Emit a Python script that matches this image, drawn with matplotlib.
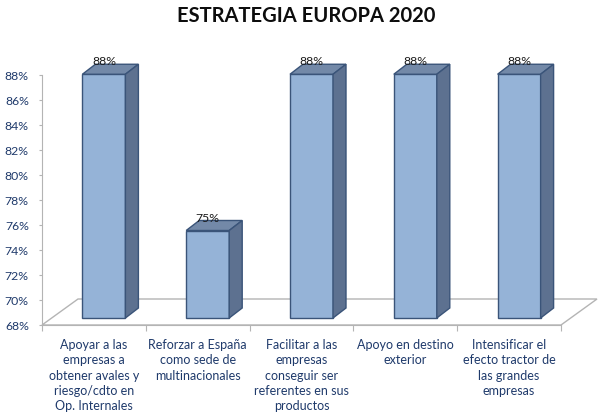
import matplotlib
matplotlib.use("Agg")
import matplotlib.pyplot as plt
from matplotlib.patches import Polygon
from matplotlib.ticker import FixedLocator, FixedFormatter, FuncFormatter
import numpy as np

plt.rcParams['font.family'] = ['Lato', 'DejaVu Sans']

# ---- data ----
title = "ESTRATEGIA EUROPA 2020"
categories = [
    "Apoyar a las\nempresas a\nobtener avales y\nriesgo/cdto en\nOp. Internales",
    "Reforzar a España\ncomo sede de\nmultinacionales",
    "Facilitar a las\nempresas\nconseguir ser\nreferentes en sus\nproductos",
    "Apoyo en destino\nexterior",
    "Intensificar el\nefecto tractor de\nlas grandes\nempresas",
]
values = [87.5, 75.0, 87.5, 87.5, 87.5]
y_ticks = [68, 70, 72, 74, 76, 78, 80, 82, 84, 86, 88]

# ---- style ----
W, H = 600, 416
front_col = '#95B3D7'
top_col = '#7389A8'
side_col = '#5D7190'
edge_col = '#3A5479'
grid_col = '#B4B4B4'
text_col = '#1F3A6B'

fig = plt.figure(figsize=(W / 100, H / 100), dpi=100)
ax_l, ax_r, ax_t, ax_b = 42, 561, 75, 325
ax = fig.add_axes([ax_l / W, (H - ax_b) / H, (ax_r - ax_l) / W, (ax_b - ax_t) / H])
n = len(categories)
ax.set_xlim(-0.5, n - 0.5)
ax.set_ylim(y_ticks[0], y_ticks[-1])

# pixel -> data unit factors
ux = n / (ax_r - ax_l)
uy = (y_ticks[-1] - y_ticks[0]) / (ax_b - ax_t)
ybase = y_ticks[0]

# floor (3D)
fdx, fdy = 36 * ux, 26 * uy
x0, x1 = -0.5, n - 0.5
floor = Polygon([(x0, ybase), (x1, ybase), (x1 + fdx, ybase + fdy), (x0 + fdx, ybase + fdy)],
                closed=True, facecolor='none', edgecolor=grid_col, lw=1.0,
                clip_on=False, zorder=1)
ax.add_patch(floor)

# bars
shift_x, shift_y = 10 * ux, 7 * uy
bw = 43 * ux
ddx, ddy = 13 * ux, 10 * uy
xs = np.arange(n)
bottom = ybase + shift_y
heights = np.array(values) - ybase
bars = ax.bar(xs + shift_x, heights, width=bw, bottom=bottom, color=front_col,
              edgecolor=edge_col, linewidth=1.0, zorder=3, clip_on=False)
for b, v in zip(bars, values):
    xl = b.get_x()
    xr = xl + b.get_width()
    top = b.get_y() + b.get_height()
    ax.add_patch(Polygon([(xl, top), (xr, top), (xr + ddx, top + ddy), (xl + ddx, top + ddy)],
                         closed=True, facecolor=top_col, edgecolor=edge_col, lw=1.0,
                         zorder=3, clip_on=False))
    ax.add_patch(Polygon([(xr, bottom), (xr + ddx, bottom + ddy), (xr + ddx, top + ddy), (xr, top)],
                         closed=True, facecolor=side_col, edgecolor=edge_col, lw=1.0,
                         zorder=3, clip_on=False))
    ax.text(xl + b.get_width() / 2, top + ddy - 1 * uy, f"{v:.0f}%", ha='center', va='baseline',
            fontsize=8.8, color='#1a1a1a', zorder=5)

# axes styling
for s in ['top', 'right']:
    ax.spines[s].set_visible(False)
ax.spines['left'].set_color(grid_col)
ax.spines['bottom'].set_color(grid_col)
ax.spines['left'].set_zorder(2)
ax.spines['bottom'].set_zorder(2)

ax.set_yticks(y_ticks)
ax.yaxis.set_major_formatter(FuncFormatter(lambda v, p: f"{v:.0f}%"))
ax.tick_params(axis='y', direction='out', length=2.5, width=0.8, color=grid_col,
               labelsize=8.8, labelcolor=text_col, pad=7)

ax.xaxis.set_major_locator(FixedLocator(np.arange(n + 1) - 0.5))
ax.xaxis.set_major_formatter(FixedFormatter([''] * (n + 1)))
ax.xaxis.set_minor_locator(FixedLocator(xs))
ax.xaxis.set_minor_formatter(FixedFormatter(categories))
ax.tick_params(axis='x', which='major', direction='out', length=4, width=0.8, color=grid_col)
ax.tick_params(axis='x', which='minor', length=0, labelsize=9, labelcolor=text_col, pad=10)
for lab in ax.xaxis.get_minorticklabels():
    lab.set_linespacing(1.34)
    lab.set_ha('center')
    lab.set_va('top')

fig.text(306 / W, 1 - 15.5 / H, title, ha='center', va='center', fontsize=14.5,
         fontweight='bold', color='#0d0d0d')

fig.savefig('out.png', dpi=100)
